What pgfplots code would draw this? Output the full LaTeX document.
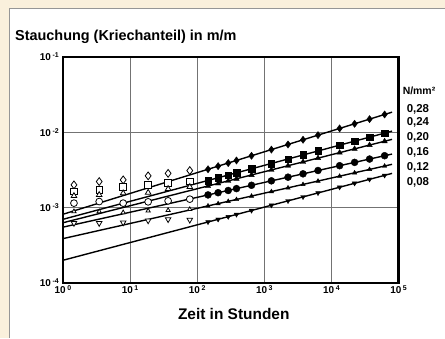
\documentclass[border=0pt]{standalone}
\usepackage{fontspec}
\setmainfont{Liberation Sans}
\usepackage{pgfplots}
\pgfplotsset{compat=1.18}
\definecolor{bgbeige}{RGB}{250,240,220}
\definecolor{panelgray}{RGB}{150,150,150}
\definecolor{gridgray}{RGB}{115,115,115}
\newcommand{\sx}[1]{\,\raisebox{0.55ex}{\fontsize{7}{7}\selectfont #1}}
\begin{document}
\begin{tikzpicture}[x=1bp,y=1bp]
\fill[bgbeige] (0,0) rectangle (445,338);
\fill[white] (9,0) rectangle (445,329);
\draw[panelgray, line width=1bp] (9.5,0) -- (9.5,329.5) -- (445,329.5);
\useasboundingbox (0,0) rectangle (445,338);
\begin{axis}[
  name=ax,
  at={(63bp,55bp)}, anchor=south west,
  scale only axis, width=336bp, height=226bp,
  xmode=log, ymode=log,
  xmin=1, xmax=1e5, ymin=1e-4, ymax=1e-1,
  xtick={1,10,100,1000,10000,100000},
  xticklabels={10\sx{0},10\sx{1},10\sx{2},10\sx{3},10\sx{4},10\sx{5}},
  ytick={1e-4,1e-3,1e-2,1e-1},
  yticklabels={10\sx{-4},10\sx{-3},10\sx{-2},10\sx{-1}},
  xminorticks=false, yminorticks=false,
  major tick length=0pt,
  grid=major,
  major grid style={gridgray, line width=1bp},
  axis line style={draw=black, line width=2.2bp},
  tick label style={font=\bfseries\fontsize{10}{10}\selectfont},
  xticklabel style={inner sep=0pt, yshift=-3bp},
  yticklabel style={inner sep=0pt, xshift=-4bp},
  clip=false,
]
% fitted lines
\addplot[black, line width=1.4bp, no marks] coordinates {(1,8.11e-4) (8e4,1.846e-2)};
\addplot[black, line width=1.4bp, no marks] coordinates {(1,6.95e-4) (8e4,1.033e-2)};
\addplot[black, line width=1.4bp, no marks] coordinates {(1,6.26e-4) (8e4,8.03e-3)};
\addplot[black, line width=1.4bp, no marks] coordinates {(1,5.47e-4) (8e4,5.12e-3)};
\addplot[black, line width=1.4bp, no marks] coordinates {(1,3.85e-4) (8e4,3.74e-3)};
\addplot[black, line width=1.4bp, no marks] coordinates {(1,1.985e-4) (8e4,2.835e-3)};
% open markers (early times)
\addplot[only marks, mark=diamond*, mark size=3.9bp, mark options={fill=white, draw=black, line width=0.8bp}] coordinates {
 (1.46,1.996e-3) (3.47,2.208e-3) (7.9,2.325e-3) (18.6,2.628e-3) (36.9,2.837e-3) (77.6,3.090e-3)};
\addplot[only marks, mark=square*, mark size=3.3bp, mark options={fill=white, draw=black, line width=0.8bp}] coordinates {
 (1.46,1.626e-3) (3.47,1.713e-3) (7.9,1.861e-3) (18.6,1.996e-3) (36.9,2.102e-3) (77.6,2.208e-3)};
\addplot[only marks, mark=triangle*, mark size=3.2bp, mark options={fill=white, draw=black, line width=0.8bp}] coordinates {
 (1.46,1.426e-3) (3.47,1.470e-3) (7.9,1.548e-3) (18.6,1.577e-3) (36.9,1.766e-3) (77.6,1.878e-3)};
\addplot[only marks, mark=*, mark size=3.4bp, mark options={fill=white, draw=black, line width=0.8bp}] coordinates {
 (1.46,1.141e-3) (3.47,1.198e-3) (7.9,1.141e-3) (18.6,1.187e-3) (36.9,1.224e-3) (77.6,1.289e-3)};
\addplot[only marks, mark=triangle*, mark size=2.5bp, mark options={fill=white, draw=black, line width=0.8bp}] coordinates {
 (1.46,8.82e-4) (3.47,8.82e-4) (7.9,8.56e-4) (18.6,9.01e-4) (36.9,9.15e-4) (77.6,9.44e-4)};
\addplot[only marks, mark=triangle*, mark size=3.2bp, mark options={fill=white, draw=black, line width=0.8bp, rotate=180}] coordinates {
 (1.46,6.19e-4) (3.47,6.19e-4) (7.9,6.30e-4) (18.6,6.70e-4) (36.9,6.95e-4) (77.6,6.84e-4)};
% filled markers (later times)
\addplot[only marks, mark=diamond*, mark size=3.6bp, mark options={fill=black, draw=black}] coordinates {
 (145,3.217e-3) (205,3.538e-3) (290,3.890e-3) (385,4.212e-3) (645,4.858e-3) (1275,5.873e-3) (2255,6.875e-3) (3775,7.930e-3) (6310,9.140e-3) (13240,1.122e-2) (22130,1.293e-2) (36980,1.491e-2) (61940,1.720e-2)};
\addplot[only marks, mark=square*, mark size=3.3bp, mark options={fill=black, draw=black}] coordinates {
 (145,2.285e-3) (205,2.481e-3) (290,2.693e-3) (385,2.885e-3) (645,3.262e-3) (1275,3.842e-3) (2255,4.402e-3) (3775,4.981e-3) (6310,5.631e-3) (13240,6.724e-3) (22130,7.601e-3) (36980,8.595e-3) (61940,9.723e-3)};
\addplot[only marks, mark=triangle*, mark size=3.1bp, mark options={fill=black, draw=black}] coordinates {
 (145,1.928e-3) (205,2.083e-3) (290,2.251e-3) (385,2.402e-3) (645,2.698e-3) (1275,3.151e-3) (2255,3.583e-3) (3775,4.025e-3) (6310,4.522e-3) (13240,5.346e-3) (22130,6.003e-3) (36980,6.743e-3) (61940,7.575e-3)};
\addplot[only marks, mark=*, mark size=3.5bp, mark options={fill=black, draw=black}] coordinates {
 (145,1.467e-3) (205,1.570e-3) (290,1.680e-3) (385,1.779e-3) (645,1.970e-3) (1275,2.257e-3) (2255,2.525e-3) (3775,2.797e-3) (6310,3.097e-3) (13240,3.587e-3) (22130,3.970e-3) (36980,4.395e-3) (61940,4.869e-3)};
\addplot[only marks, mark=triangle*, mark size=2.5bp, mark options={fill=black, draw=black}] coordinates {
 (145,1.049e-3) (205,1.124e-3) (290,1.204e-3) (385,1.276e-3) (645,1.415e-3) (1275,1.624e-3) (2255,1.822e-3) (3775,2.021e-3) (6310,2.241e-3) (13240,2.603e-3) (22130,2.886e-3) (36980,3.201e-3) (61940,3.550e-3)};
\addplot[only marks, mark=triangle*, mark size=2.7bp, mark options={fill=black, draw=black, rotate=180}] coordinates {
 (145,6.412e-4) (205,6.950e-4) (290,7.537e-4) (385,8.066e-4) (645,9.101e-4) (1275,1.070e-3) (2255,1.223e-3) (3775,1.381e-3) (6310,1.559e-3) (13240,1.856e-3) (22130,2.094e-3) (36980,2.364e-3) (61940,2.669e-3)};
\end{axis}
\draw[black, line width=2.2bp] (ax.south west) rectangle (ax.north east);
% texts
\node[anchor=base west, inner sep=0pt, font=\bfseries\fontsize{14.5}{14.5}\selectfont] at (15,297) {Stauchung (Kriechanteil) in m/m};
\node[anchor=base, inner sep=0pt, font=\bfseries\fontsize{15.5}{15.5}\selectfont] at (234,18) {Zeit in Stunden};
\node[anchor=west, inner sep=0pt, font=\bfseries\fontsize{10.5}{10.5}\selectfont] at (403,247.3) {N/mm²};
\begin{scope}[every node/.style={anchor=west, inner sep=0pt, font=\bfseries\fontsize{11.5}{11.5}\selectfont}]
\node at (407,228) {0,28};
\node at (407,215.3) {0,24};
\node at (407,200.7) {0,20};
\node at (407,185.3) {0,16};
\node at (407,170.7) {0,12};
\node at (407,155.7) {0,08};
\end{scope}
\end{tikzpicture}
\end{document}
